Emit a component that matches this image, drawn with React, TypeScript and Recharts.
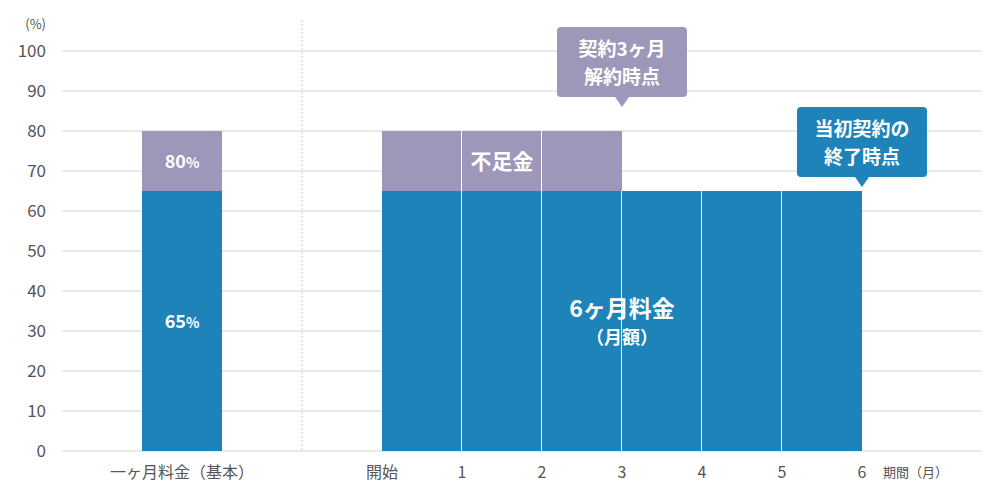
import { Bar, BarChart, CartesianGrid, LabelList, ReferenceLine, XAxis, YAxis } from 'recharts'

const keys = ['pad', 'base', 'gapA', 'gapB', 'm1', 'm2', 'm3', 'm4', 'm5', 'm6', 'tail']
const tickLabels = ['', '一ヶ月料金（基本）', '', '', '開始', '1', '2', '3', '4', '5', '6']
const monthly = [null, 65, null, null, 65, 65, 65, 65, 65, 65, null]
const shortfall = [null, 15, null, null, 15, 15, 15, null, null, null, null]
const yTicks = [0, 10, 20, 30, 40, 50, 60, 70, 80, 90, 100]

const data = keys.map((key, i) => ({ key, monthly: monthly[i], shortfall: shortfall[i] }))

const BLUE = '#1d83b8'
const PURPLE = '#9d97b9'
const FONT = '"Noto Sans CJK JP", "Noto Sans", sans-serif'

const BAND = 80

const BarShape = (props: any) => {
    const { x, y, width, height, fill, index } = props
    const divider = index >= 5 && index <= 9
    return (
        <g>
            <rect x={x} y={y} width={width} height={height} fill={fill} />
            {divider && <rect x={x - 1} y={y} width={1} height={height} fill="#fff" />}
        </g>
    )
}

const Callout = ({ cx, tipY, color, lines }: { cx: number, tipY: number, color: string, lines: string[] }) => {
    const w = 130
    const h = 70
    const bottom = tipY - 10
    return (
        <g>
            <rect x={cx - w / 2} y={bottom - h} width={w} height={h} rx={4} fill={color} />
            <path d={`M${cx - 7},${bottom} L${cx + 7},${bottom} L${cx},${tipY} Z`} fill={color} />
            {lines.map((t, i) => (
                <text key={i} x={cx} y={bottom - h + 29 + i * 28} textAnchor="middle" fill="#fff"
                    fontSize={19} fontWeight={700} fontFamily={FONT}>{t}</text>
            ))}
        </g>
    )
}

const XTick = (props: any) => {
    const { x, y, index } = props
    const label = tickLabels[index]
    if (!label) return null
    const tx = index === 1 ? x : x - BAND / 2
    return (
        <g>
            <text x={tx} y={y + 19} textAnchor="middle" fill="#555" fontSize={16} fontFamily={FONT}>{label}</text>
            {index === keys.length - 1 && (
                <text x={tx + 21} y={y + 18} textAnchor="start" fill="#555" fontSize={13} fontFamily={FONT}>期間（月）</text>
            )}
        </g>
    )
}

const pctText = (x: number, y: number, v: string) => (
    <text x={x} y={y} textAnchor="middle" fill="#fff" fontSize={18} fontWeight={700} fontFamily={FONT}>
        {v}<tspan fontSize={14}>%</tspan>
    </text>
)

const blueLabel = (props: any) => {
    const { x, y, width, height, index } = props
    if (index === 1) return pctText(x + width / 2, y + height / 2 + 7, '65')
    if (index === 6) {
        return (
            <g>
                <text x={x + width} y={y + height / 2 - 4} textAnchor="middle" fill="#fff" fontSize={23} fontWeight={700} fontFamily={FONT}>6ヶ月料金</text>
                <text x={x + width} y={y + height / 2 + 23} textAnchor="middle" fill="#fff" fontSize={18} fontWeight={700} fontFamily={FONT}>（月額）</text>
            </g>
        )
    }
    if (index === 9) {
        return <Callout cx={x + width} tipY={y - 4} color={BLUE} lines={['当初契約の', '終了時点']} />
    }
    return null
}

const purpleLabel = (props: any) => {
    const { x, y, width, height, index } = props
    if (index === 1) return pctText(x + width / 2, y + height / 2 + 7, '80')
    if (index === 5) {
        return (
            <text x={x + width / 2} y={y + height / 2 + 8} textAnchor="middle" fill="#fff" fontSize={21} fontWeight={700} fontFamily={FONT}>不足金</text>
        )
    }
    if (index === 6) {
        return <Callout cx={x + width} tipY={y - 24} color={PURPLE} lines={['契約3ヶ月', '解約時点']} />
    }
    return null
}

export default function App() {
    return (
        <div style={{ position: 'absolute', left: 0, top: 0, background: '#fff' }}>
            <BarChart
                width={1000}
                height={500}
                data={data}
                margin={{ top: 51, right: 18, bottom: 19, left: 0 }}
                barCategoryGap={0}
                barGap={0}
            >
                <CartesianGrid vertical={false} stroke="#d4d4d4" />
                <XAxis
                    dataKey="key"
                    interval={0}
                    tickLine={false}
                    axisLine={false}
                    height={30}
                    padding={{ left: 0, right: 40 }}
                    tick={<XTick />}
                />
                <YAxis
                    domain={[0, 100]}
                    ticks={yTicks}
                    tickLine={false}
                    axisLine={false}
                    width={62}
                    tickMargin={10}
                    tick={{ fill: '#555', fontSize: 17, fontFamily: FONT }}
                    label={{
                        content: (p: any) => (
                            <text x={46} y={p.viewBox.y - 22} textAnchor="end" fill="#555" fontSize={13} fontFamily={FONT}>(%)</text>
                        ),
                    }}
                />
                <ReferenceLine
                    x="gapB"
                    position="start"
                    stroke="#c8c8c8"
                    strokeDasharray="2 2"
                    shape={(p: any) => (
                        <line x1={p.x1} x2={p.x2} y1={Math.min(p.y1, p.y2) - 31} y2={Math.max(p.y1, p.y2)}
                            stroke="#c8c8c8" strokeDasharray="2 2" />
                    )}
                />
                <Bar dataKey="monthly" stackId="a" fill={BLUE} isAnimationActive={false} shape={<BarShape />}>
                    <LabelList dataKey="monthly" content={blueLabel} />
                </Bar>
                <Bar dataKey="shortfall" stackId="a" fill={PURPLE} isAnimationActive={false} shape={<BarShape />}>
                    <LabelList dataKey="shortfall" content={purpleLabel} />
                </Bar>
            </BarChart>
        </div>
    )
}
